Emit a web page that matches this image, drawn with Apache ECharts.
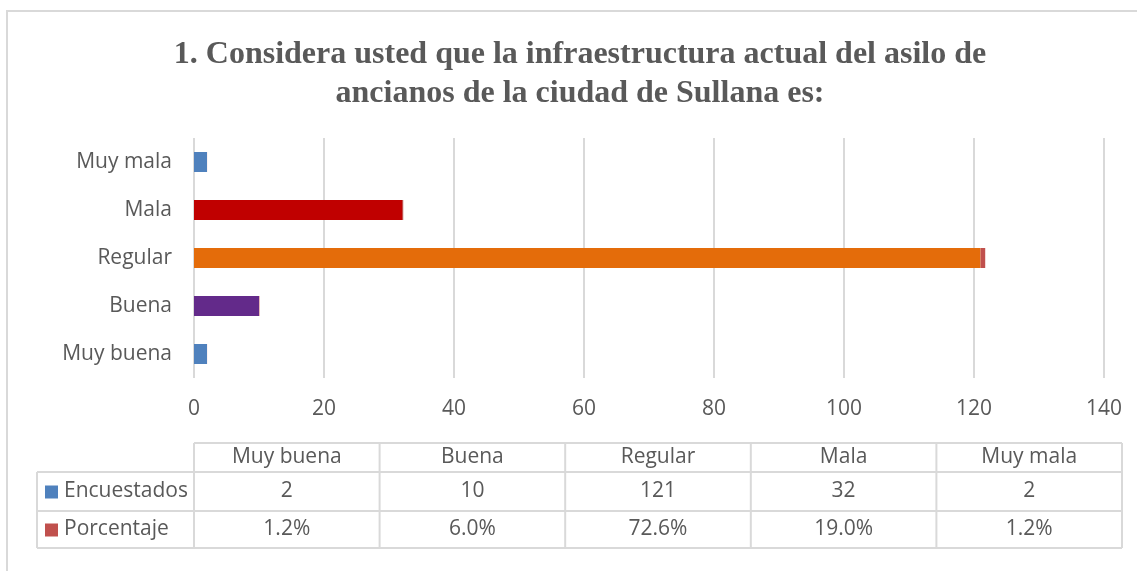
<!DOCTYPE html>
<html>
<head>
<meta charset="utf-8">
<script src="https://cdn.jsdelivr.net/npm/echarts@6/dist/echarts.min.js"></script>
<style>
  html, body { margin: 0; padding: 0; background: #fff; }
  #chart { width: 1137px; height: 571px; }
</style>
</head>
<body>
<div id="chart"></div>
<script>
// data
var categories = ['Muy buena', 'Buena', 'Regular', 'Mala', 'Muy mala'];
var encuestados = [2, 10, 121, 32, 2];
var porcentaje = [0.012, 0.060, 0.726, 0.190, 0.012];
var barColors = ['#4F81BD', '#632A8A', '#E46C0A', '#C00000', '#4F81BD'];
var xTicks = [0, 20, 40, 60, 80, 100, 120, 140];

var textColor = '#595959';
var lineColor = '#D9D9D9';
var font = '"Open Sans", "Liberation Sans", sans-serif';

function BuildTable() {
  // data table under the plot, same columns as the categories
  var left = 194, right = 1122, labelLeft = 37;
  var yHead = 443, yRow1 = 472, yRow2 = 511, yBottom = 548;
  var colW = (right - left) / categories.length;
  var els = [];
  function line(x1, y1, x2, y2) {
    els.push({ type: 'line', shape: { x1: x1, y1: y1, x2: x2, y2: y2 },
      style: { stroke: lineColor, lineWidth: 2 }, silent: true });
  }
  function txt(x, y, s, align) {
    els.push({ type: 'text', x: x, y: y,
      style: { text: s, fill: textColor, font: '21px ' + font, align: align || 'center', verticalAlign: 'middle' } });
  }
  line(left, yHead, right, yHead);
  line(labelLeft, yRow1, right, yRow1);
  line(labelLeft, yRow2, right, yRow2);
  line(labelLeft, yBottom, right, yBottom);
  line(labelLeft, yRow1, labelLeft, yBottom);
  for (var i = 0; i <= categories.length; i++) {
    line(left + i * colW, yHead, left + i * colW, yBottom);
  }
  categories.forEach(function (c, i) {
    var cx = left + (i + 0.5) * colW;
    txt(cx, (yHead + yRow1) / 2, c);
    txt(cx, (yRow1 + yRow2) / 2, String(encuestados[i]));
    txt(cx, (yRow2 + yBottom) / 2, (porcentaje[i] * 100).toFixed(1) + '%');
  });
  els.push({ type: 'rect', shape: { x: 45, y: (yRow1 + yRow2) / 2 - 6, width: 13, height: 13 }, style: { fill: '#4F81BD' } });
  els.push({ type: 'rect', shape: { x: 45, y: (yRow2 + yBottom) / 2 - 6, width: 13, height: 13 }, style: { fill: '#C0504D' } });
  txt(64, (yRow1 + yRow2) / 2, 'Encuestados', 'left');
  txt(64, (yRow2 + yBottom) / 2, 'Porcentaje', 'left');
  // outer frame
  els.push({ type: 'rect', shape: { x: 7, y: 11, width: 1160, height: 600 },
    style: { fill: 'none', stroke: lineColor, lineWidth: 2 }, silent: true, z: -1 });
  return els;
}

var myChart = echarts.init(document.getElementById('chart'));
var option = {
  animation: false,
  backgroundColor: '#fff',
  title: {
    text: '1. Considera usted que la infraestructura actual del asilo de\nancianos de la ciudad de Sullana es:',
    left: 575,
    top: 30,
    textAlign: 'center',
    textStyle: {
      fontFamily: '"Liberation Serif", "Times New Roman", serif',
      fontWeight: 'bold',
      fontSize: 32,
      lineHeight: 39,
      color: textColor
    }
  },
  grid: { left: 194, right: 33, top: 138, height: 240 },
  xAxis: {
    type: 'value',
    min: 0,
    max: 140,
    interval: 20,
    axisLine: { show: false },
    axisTick: { show: false },
    splitLine: { lineStyle: { color: lineColor, width: 2 } },
    axisLabel: { color: textColor, fontSize: 21, fontFamily: font, margin: 21,
      formatter: function (v) { return xTicks.indexOf(v) >= 0 ? String(v) : ''; } }
  },
  yAxis: {
    type: 'category',
    data: categories,
    axisLine: { show: false },
    axisTick: { show: false },
    axisLabel: { color: textColor, fontSize: 21, fontFamily: font, margin: 22 }
  },
  series: [
    {
      name: 'Encuestados',
      type: 'bar',
      stack: 'total',
      barWidth: 20,
      data: encuestados.map(function (v, i) {
        return { value: v, itemStyle: { color: barColors[i] } };
      })
    },
    {
      name: 'Porcentaje',
      type: 'bar',
      stack: 'total',
      barWidth: 20,
      itemStyle: { color: '#C0504D' },
      data: porcentaje
    }
  ],
  graphic: BuildTable()
};
myChart.setOption(option);
</script>
</body>
</html>
